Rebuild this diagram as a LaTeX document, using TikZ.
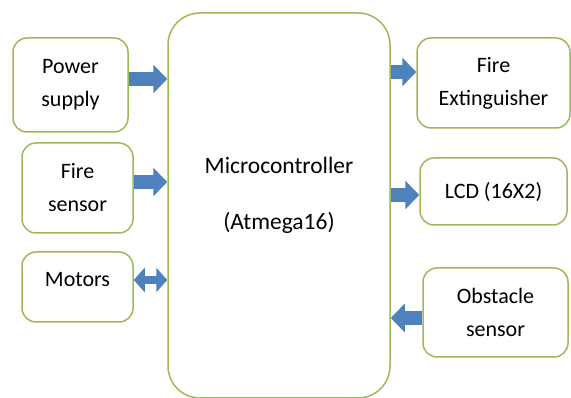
\documentclass[tikz,border=0pt]{standalone}
\usepackage{fontspec}
\setmainfont{Carlito}
\usetikzlibrary{arrows.meta}
\definecolor{boxgreen}{RGB}{155,187,89}
\definecolor{arrowblue}{RGB}{79,129,189}
\begin{document}
\begin{tikzpicture}[x=1pt,y=-1pt,
  txt/.style={font=\fontsize{22}{33}\selectfont, align=center, text=black},
  box/.style={draw=boxgreen, line width=1.5pt, rounded corners=14pt, fill=white, inner sep=0pt, txt},
  blockarrow/.style={draw=arrowblue, line width=14pt, line cap=butt, -{Triangle[width=28pt,length=14pt]}},
  dblarrow/.style={draw=arrowblue, line width=8pt, line cap=butt, {Triangle[width=24pt,length=11pt]}-{Triangle[width=24pt,length=11pt]}}
]
\useasboundingbox (0,0) rectangle (571,398);
% central block
\node[box, minimum width=222pt, minimum height=385pt, rounded corners=32pt,
  label={[name=mctext, txt, font=\fontsize{23.5}{33}\selectfont, yshift=10pt]center:Microcontroller\\[23pt](Atmega16)}] (mc) at (279,205.5) {};
% left blocks
\node[box, minimum width=115pt, minimum height=94pt] (power) at (70.5,85) {Power\\supply};
\node[box, minimum width=111pt, minimum height=90pt] (fire) at (77.5,188) {Fire\\sensor};
\node[box, minimum width=111pt, minimum height=70pt,
  label={[name=motorstext, txt, yshift=7pt]center:Motors}] (motors) at (77.5,287) {};
% right blocks
\node[box, minimum width=153pt, minimum height=90pt] (ext) at (493.5,83) {Fire\\Extinguisher};
\node[box, minimum width=147pt, minimum height=67pt] (lcd) at (493.5,191.5) {LCD (16X2)};
\node[box, minimum width=145pt, minimum height=89pt] (obs) at (495.5,312.5) {Obstacle\\sensor};
% arrows
\draw[blockarrow] ([yshift=6pt]power.east) -- ([yshift=6pt]power.east -| mc.west);
\draw[blockarrow] ([yshift=6pt]fire.east) -- ([yshift=6pt]fire.east -| mc.west);
\draw[dblarrow] ([yshift=7pt]motors.east) -- ([yshift=7pt]motors.east -| mc.west);
\draw[blockarrow] ([yshift=11pt]ext.west -| mc.east) -- ([yshift=11pt]ext.west);
\draw[blockarrow] ([yshift=-3.5pt]lcd.west -| mc.east) -- ([yshift=-3.5pt]lcd.west);
\draw[blockarrow] ([yshift=-5.5pt]obs.west) -- ([yshift=-5.5pt]obs.west -| mc.east);
\end{tikzpicture}
\end{document}
